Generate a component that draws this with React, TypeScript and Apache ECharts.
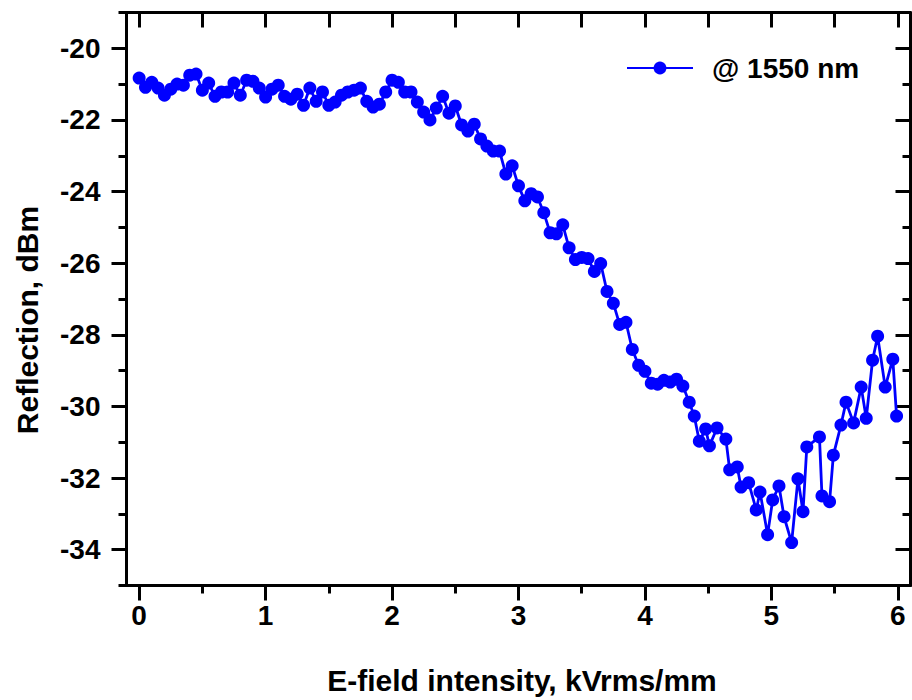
import React, { useEffect, useRef } from "react";
import * as echarts from "echarts";

const seriesName = "@ 1550 nm";
const xTitle = "E-field intensity, kVrms/mm";
const yTitle = "Reflection, dBm";

const xValues = [
  0.0, 0.05, 0.1, 0.15, 0.2, 0.25, 0.3, 0.35, 0.4, 0.45,
  0.5, 0.55, 0.6, 0.65, 0.7, 0.75, 0.8, 0.85, 0.9, 0.95,
  1.0, 1.05, 1.1, 1.15, 1.2, 1.25, 1.3, 1.35, 1.4, 1.45,
  1.5, 1.55, 1.6, 1.65, 1.7, 1.75, 1.8, 1.85, 1.9, 1.95,
  2.0, 2.05, 2.1, 2.15, 2.2, 2.25, 2.3, 2.35, 2.4, 2.45,
  2.5, 2.55, 2.6, 2.65, 2.7, 2.75, 2.8, 2.85, 2.9, 2.95,
  3.0, 3.05, 3.1, 3.15, 3.2, 3.25, 3.3, 3.35, 3.4, 3.45,
  3.5, 3.55, 3.6, 3.65, 3.7, 3.75, 3.8, 3.85, 3.9, 3.95,
  4.0, 4.05, 4.1, 4.15, 4.2, 4.25, 4.3, 4.35,
  4.39, 4.43, 4.48, 4.51, 4.57, 4.64, 4.67, 4.73, 4.76, 4.82,
  4.88, 4.91, 4.97, 5.01, 5.06, 5.1, 5.16, 5.21, 5.25, 5.28,
  5.38, 5.4, 5.46, 5.49, 5.55, 5.59, 5.65, 5.71, 5.75, 5.8,
  5.84, 5.9, 5.96, 5.99,
];

const yValues = [
  -20.83, -21.09, -20.95, -21.11, -21.31, -21.14, -21.0, -21.03, -20.75, -20.72,
  -21.17, -20.97, -21.34, -21.22, -21.22, -20.97, -21.31, -20.89, -20.92, -21.11,
  -21.36, -21.14, -21.03, -21.34, -21.42, -21.28, -21.59, -21.11, -21.48, -21.22,
  -21.59, -21.5, -21.31, -21.22, -21.17, -21.11, -21.48, -21.64, -21.56, -21.22,
  -20.89, -20.95, -21.22, -21.22, -21.5, -21.78, -22.0, -21.67, -21.34, -21.81,
  -21.61, -22.14, -22.31, -22.12, -22.53, -22.73, -22.87, -22.87, -23.51, -23.28,
  -23.84, -24.26, -24.06, -24.15, -24.59, -25.15, -25.18, -24.93, -25.57, -25.9,
  -25.84, -25.87, -26.23, -26.01, -26.79, -27.12, -27.71, -27.65, -28.41, -28.85,
  -29.02, -29.35, -29.38, -29.27, -29.32, -29.24, -29.43, -29.88,
  -30.27, -30.97, -30.63, -31.1, -30.6, -30.91, -31.77, -31.69, -32.25, -32.13,
  -32.89, -32.39, -33.58, -32.61, -32.22, -33.08, -33.8, -32.02, -32.94, -31.13,
  -30.85, -32.5, -32.66, -31.36, -30.52, -29.88, -30.46, -29.46, -30.33, -28.71,
  -28.04, -29.46, -28.68, -30.27,
];

const xMajorTicks = [0, 1, 2, 3, 4, 5, 6];
const xMinorTicks = [0.5, 1.5, 2.5, 3.5, 4.5, 5.5];
const xTopTicks = [0, 0.5, 1, 1.5, 2, 2.5, 3, 3.5, 4, 4.5, 5, 5.5, 6];
const yMajorTicks = [-34, -32, -30, -28, -26, -24, -22, -20];
const yMinorTicks = [-35, -33, -31, -29, -27, -25, -23, -21, -19];

const FONT = '"Liberation Sans", Arial, Helvetica, sans-serif';
const BLUE = "#0000ff";

export default function App() {
  const ref = useRef<HTMLDivElement>(null);

  useEffect(() => {
    if (!ref.current) return;
    const chart = echarts.init(ref.current, undefined, { renderer: "svg" });
    const data = xValues.map((x, i) => [x, yValues[i]]);
    const lineStyle = { color: "#000", width: 3 };
    const xRange = { min: -0.1, max: 6.1 };
    const yRange = { min: -35, max: -19 };
    const hidden = { show: false };

    chart.setOption({
      animation: false,
      backgroundColor: "#fff",
      grid: {
        left: 126.5,
        top: 12.5,
        width: 784,
        height: 573,
        containLabel: false,
        outerBoundsMode: "none",
      },
      legend: {
        show: true,
        left: 621,
        top: 49,
        itemWidth: 66,
        itemHeight: 16,
        textStyle: {
          fontSize: 28,
          fontWeight: "bold",
          fontFamily: FONT,
          color: "#000",
          padding: [0, 0, 0, 14],
        },
        data: [seriesName],
      },
      xAxis: [
        {
          type: "value",
          position: "bottom",
          ...xRange,
          axisLine: { show: true, onZero: false, lineStyle },
          axisTick: { show: true, inside: false, length: 15, lineStyle, customValues: xMajorTicks },
          axisLabel: {
            show: true,
            customValues: xMajorTicks,
            margin: 16,
            fontSize: 28,
            fontWeight: "bold",
            fontFamily: FONT,
            color: "#000",
          },
          splitLine: hidden,
        },
        {
          type: "value",
          position: "bottom",
          ...xRange,
          axisLine: { show: false, onZero: false },
          axisTick: { show: true, inside: false, length: 8, lineStyle, customValues: xMinorTicks },
          axisLabel: hidden,
          splitLine: hidden,
        },
        {
          type: "value",
          position: "top",
          ...xRange,
          axisLine: { show: true, onZero: false, lineStyle },
          axisTick: { show: true, inside: true, length: 15, lineStyle, customValues: xTopTicks },
          axisLabel: hidden,
          splitLine: hidden,
        },
      ],
      yAxis: [
        {
          type: "value",
          position: "left",
          ...yRange,
          axisLine: { show: true, onZero: false, lineStyle },
          axisTick: { show: true, inside: false, length: 15, lineStyle, customValues: yMajorTicks },
          axisLabel: {
            show: true,
            customValues: yMajorTicks,
            margin: 26,
            fontSize: 28,
            fontWeight: "bold",
            fontFamily: FONT,
            color: "#000",
          },
          splitLine: hidden,
        },
        {
          type: "value",
          position: "left",
          ...yRange,
          axisLine: { show: false, onZero: false },
          axisTick: { show: true, inside: false, length: 8, lineStyle, customValues: yMinorTicks },
          axisLabel: hidden,
          splitLine: hidden,
        },
        {
          type: "value",
          position: "right",
          ...yRange,
          axisLine: { show: true, onZero: false, lineStyle },
          axisTick: { show: true, inside: true, length: 15, lineStyle, customValues: yMajorTicks },
          axisLabel: hidden,
          splitLine: hidden,
        },
        {
          type: "value",
          position: "right",
          ...yRange,
          axisLine: { show: false, onZero: false },
          axisTick: { show: true, inside: true, length: 8, lineStyle, customValues: yMinorTicks },
          axisLabel: hidden,
          splitLine: hidden,
        },
      ],
      graphic: [
        {
          type: "text",
          x: 522,
          y: 680,
          style: {
            text: xTitle,
            fontSize: 30,
            fontWeight: "bold",
            fontFamily: FONT,
            fill: "#000",
            align: "center",
            verticalAlign: "middle",
          },
        },
        {
          type: "text",
          x: 27,
          y: 320,
          rotation: Math.PI / 2,
          style: {
            text: yTitle,
            fontSize: 30,
            fontWeight: "bold",
            fontFamily: FONT,
            fill: "#000",
            align: "center",
            verticalAlign: "middle",
          },
        },
      ],
      series: [
        {
          name: seriesName,
          type: "line",
          xAxisIndex: 0,
          yAxisIndex: 0,
          data,
          symbol: "circle",
          symbolSize: 13,
          showSymbol: true,
          lineStyle: { color: BLUE, width: 2.8 },
          itemStyle: { color: BLUE, borderWidth: 0 },
          emphasis: { disabled: true },
          z: 3,
        },
      ],
    });

    return () => chart.dispose();
  }, []);

  return (
    <div
      ref={ref}
      style={{ position: "fixed", left: 0, top: 0, width: 912, height: 700, background: "#fff" }}
    />
  );
}
